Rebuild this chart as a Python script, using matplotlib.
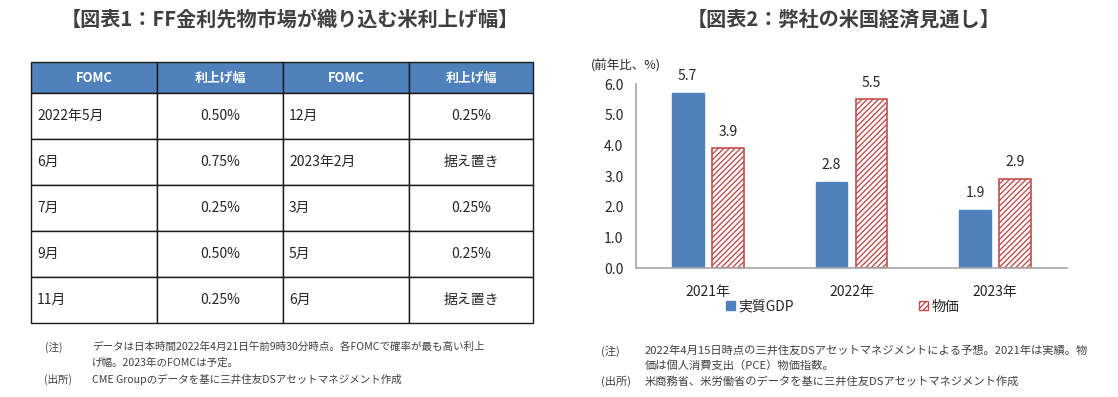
import matplotlib
matplotlib.use('Agg')
import matplotlib.pyplot as plt
from matplotlib.patches import Rectangle, Patch
import numpy as np

plt.rcParams['font.family'] = ['Noto Sans CJK JP', 'DejaVu Sans']
plt.rcParams['hatch.linewidth'] = 1.0

# 図表1：表のデータ
header = ['FOMC', '利上げ幅', 'FOMC', '利上げ幅']
fomc_left = ['2022年5月', '6月', '7月', '9月', '11月']
hike_left = ['0.50%', '0.75%', '0.25%', '0.50%', '0.25%']
fomc_right = ['12月', '2023年2月', '3月', '5月', '6月']
hike_right = ['0.25%', '据え置き', '0.25%', '0.25%', '据え置き']

# 図表2：棒グラフのデータ
years = ['2021年', '2022年', '2023年']
gdp = [5.7, 2.8, 1.9]
price = [3.9, 5.5, 2.9]

BLUE = '#4F81BD'
RED = '#C0504D'
TITLE_C = '#404040'
TEXT_C = '#262626'

W, H = 1118, 397
fig = plt.figure(figsize=(W / 100, H / 100), dpi=100)

# 全体を覆うピクセル座標の軸（表・注記用）
base = fig.add_axes([0, 0, 1, 1])
base.set_xlim(0, W)
base.set_ylim(H, 0)
base.axis('off')

# タイトル
base.text(290, 19, '【図表1：FF金利先物市場が織り込む米利上げ幅】', ha='center', va='center',
          fontsize=14.5, fontweight='bold', color=TITLE_C)
base.text(844, 19, '【図表2：弊社の米国経済見通し】', ha='center', va='center',
          fontsize=14.5, fontweight='bold', color=TITLE_C)

# 表
col_x = [31, 157, 283, 409, 533]
row_y = [62, 93, 139, 185, 231, 277, 323]
body = [[fomc_left[i], hike_left[i], fomc_right[i], hike_right[i]] for i in range(len(fomc_left))]

for c in range(4):
    x0, x1 = col_x[c], col_x[c + 1]
    base.add_patch(Rectangle((x0, row_y[0]), x1 - x0, row_y[1] - row_y[0],
                             facecolor=BLUE, edgecolor='#1a1a1a', lw=1.0))
    base.text((x0 + x1) / 2, (row_y[0] + row_y[1]) / 2, header[c], ha='center', va='center',
              fontsize=9.3, fontweight='bold', color='white')

for r, row in enumerate(body):
    y0, y1 = row_y[r + 1], row_y[r + 2]
    for c in range(4):
        x0, x1 = col_x[c], col_x[c + 1]
        base.add_patch(Rectangle((x0, y0), x1 - x0, y1 - y0,
                                 facecolor='white', edgecolor='#1a1a1a', lw=1.0))
        if c % 2 == 0:
            base.text(x0 + 6, (y0 + y1) / 2, row[c], ha='left', va='center',
                      fontsize=10, color=TEXT_C)
        else:
            base.text((x0 + x1) / 2, (y0 + y1) / 2, row[c], ha='center', va='center',
                      fontsize=10, color=TEXT_C)

# 注記（左）
note_kw = dict(ha='left', va='center', fontsize=7.6, color=TITLE_C)
base.text(45, 347, '(注)', **note_kw)
base.text(92, 347, 'データは日本時間2022年4月21日午前9時30分時点。各FOMCで確率が最も高い利上', **note_kw)
base.text(92, 363, 'げ幅。2023年のFOMCは予定。', **note_kw)
base.text(44, 379, '(出所)', **note_kw)
base.text(92, 379, 'CME Groupのデータを基に三井住友DSアセットマネジメント作成', **note_kw)

# 注記（右）
note_kw['fontsize'] = 8.1
base.text(601, 351, '(注)', **note_kw)
base.text(645, 351, '2022年4月15日時点の三井住友DSアセットマネジメントによる予想。2021年は実績。物', **note_kw)
base.text(645, 366, '価は個人消費支出（PCE）物価指数。', **note_kw)
base.text(601, 381, '(出所)', **note_kw)
base.text(645, 381, '米商務省、米労働省のデータを基に三井住友DSアセットマネジメント作成', **note_kw)

# 棒グラフ
ax = fig.add_axes([636 / W, (H - 268) / H, 431 / W, 184 / H])
x = np.arange(len(years))
bw = 0.22
b1 = ax.bar(x - 0.14, gdp, bw, color=BLUE, edgecolor=BLUE, label='実質GDP')
b2 = ax.bar(x + 0.14, price, bw, facecolor='white', edgecolor=RED, hatch='//////',
            lw=1.2, label='物価')
ax.bar_label(b1, labels=['%.1f' % v for v in gdp], padding=7, fontsize=10, color=TEXT_C)
ax.bar_label(b2, labels=['%.1f' % v for v in price], padding=7, fontsize=10, color=TEXT_C)

ax.set_xlim(-0.5, len(years) - 0.5)
ax.set_ylim(0, 6)
ax.set_yticks(np.arange(0, 6.5, 1.0))
ax.set_yticklabels(['%.1f' % v for v in np.arange(0, 6.5, 1.0)])
ax.set_xticks(x)
ax.set_xticklabels(years)
ax.tick_params(axis='y', length=0, pad=9, labelsize=10, labelcolor=TEXT_C)
ax.tick_params(axis='x', length=0, pad=12, labelsize=10, labelcolor=TEXT_C)
for s in ['top', 'right']:
    ax.spines[s].set_visible(False)
for s in ['left', 'bottom']:
    ax.spines[s].set_color('#A6A6A6')
    ax.spines[s].set_linewidth(1.2)

ax.text(-0.023, 1.10, '(前年比、%)', transform=ax.transAxes, ha='center', va='center',
        fontsize=9, color=TEXT_C)

handles = [Patch(facecolor=BLUE, edgecolor=BLUE),
           Patch(facecolor='white', edgecolor=RED, hatch='//////')]
ax.legend(handles, ['実質GDP', '物価'], loc='center', bbox_to_anchor=(0.48, -0.21),
          ncol=2, frameon=False, fontsize=10, handlelength=0.6, handleheight=0.6,
          handletextpad=0.3, columnspacing=9.0, borderaxespad=0, labelcolor=TEXT_C)

fig.savefig('out.png', dpi=100)
